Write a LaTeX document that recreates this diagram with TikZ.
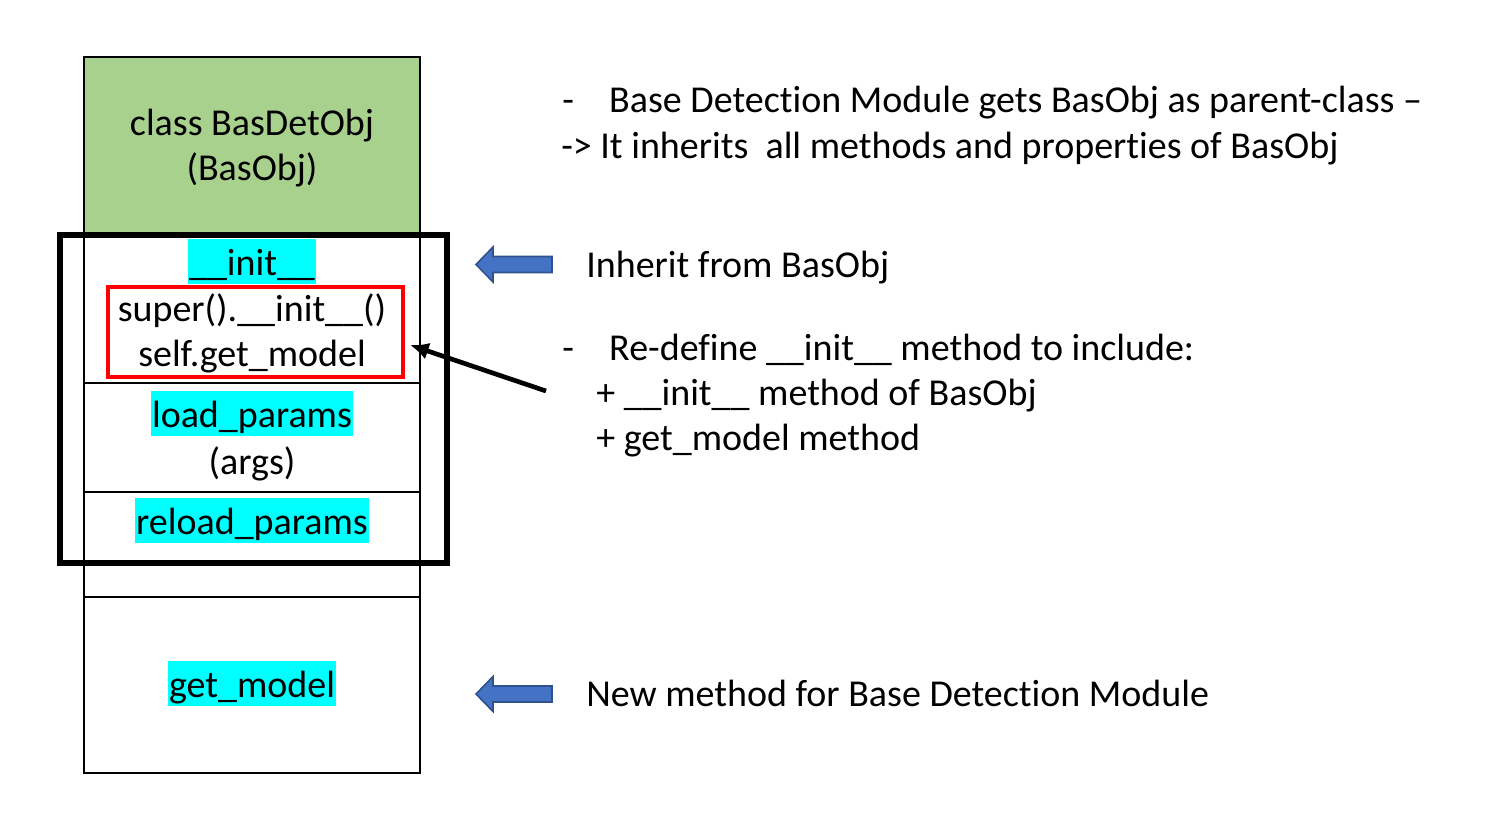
\documentclass[tikz,border=0pt]{standalone}
\usepackage{fontspec}
\setmainfont{Carlito}[Ligatures={NoCommon}]
\usetikzlibrary{arrows.meta}
\definecolor{classgreen}{RGB}{169,209,142}
\definecolor{hlcyan}{RGB}{0,255,255}
\definecolor{blockblue}{RGB}{68,114,196}
\definecolor{blockedge}{RGB}{47,82,143}
\definecolor{framered}{RGB}{255,0,0}

\begin{document}
\begin{tikzpicture}[x=0.75pt,y=-0.75pt,line join=miter,
    txt/.style={inner sep=0pt,font=\fontsize{28.5}{34}\selectfont},
    hl/.style={txt,fill=hlcyan,inner xsep=1pt,inner ysep=0pt,text height=27pt,text depth=6.75pt},
    redframe/.style={draw=framered,line width=3.5pt,inner sep=0pt,minimum width=221.25pt,minimum height=67.5pt},
    blockarrow/.style={fill=blockblue,draw=blockedge,line width=1.2pt},
    pointer/.style={line width=3.5pt,-{Latex[length=14pt,width=13pt]}}]
        \useasboundingbox (0,0) rectangle (1491,836);

        % Columna de la clase
        \fill[classgreen] (84,57) rectangle (420,233);
        \draw[line width=1pt] (84,57) rectangle (420,773);
        \foreach \y in {383,492,597}
            \draw[line width=1pt] (84,\y) -- (420,\y);
        \node[txt,anchor=base] (cls) at (252,135) {class BasDetObj};
        \node[txt,anchor=base] (parent) at (252,180) {(BasObj)};

        % Metodos heredados
        \node[hl,anchor=base] (init) at (252,275) {\_\_init\_\_};
        \node[txt,anchor=base] (superinit) at (252,321) {super().\_\_init\_\_()};
        \node[txt,anchor=base] (selfget) at (252,366) {self.get\_model};
        \node[redframe] (redbox) at (255.5,332) {};
        \node[hl,anchor=base] (load) at (252,427) {load\_params};
        \node[txt,anchor=base] (args) at (252,474) {(args)};
        \node[hl,anchor=base] (reload) at (252,534) {reload\_params};
        \draw[line width=4.5pt] (59.5,234.5) rectangle (446.5,563);

        % Metodo nuevo
        \node[hl,anchor=base] (getm) at (252,697) {get\_model};

        % Flechas de bloque
        \foreach \c in {264.5,694}
            \draw[blockarrow] (552,{\c-8}) -- (493,{\c-8}) -- (493,{\c-17.5}) -- (476,\c)
                -- (493,{\c+17.5}) -- (493,{\c+8}) -- (552,{\c+8}) -- cycle;

        % Textos de la derecha
        \node[txt,anchor=base west] (parentnote) at (562,112)
            {\makebox[35.25pt][l]{-}Base Detection Module gets BasObj as parent-class –};
        \node[txt,anchor=base west] (inheritsall) at (561,158)
            {-> It inherits\ \ all methods and properties of BasObj};
        \node[txt,anchor=base west] (inherit) at (586,277) {Inherit from BasObj};
        \node[txt,anchor=base west] (redefine) at (562,360)
            {\makebox[35.25pt][l]{-}Re-define \_\_init\_\_ method to include:};
        \node[txt,anchor=base west] (plusinit) at (596,405) {+ \_\_init\_\_ method of BasObj};
        \node[txt,anchor=base west] (plusget) at (596,450) {+ get\_model method};
        \node[txt,anchor=base west] (newmethod) at (586,706) {New method for Base Detection Module};

        % Flecha hacia el recuadro rojo
        \coordinate (tail) at (546,391);
        \coordinate (tip) at (410,345);
        \draw[pointer] (tail) -- (tip);

    \end{tikzpicture}
\end{document}
